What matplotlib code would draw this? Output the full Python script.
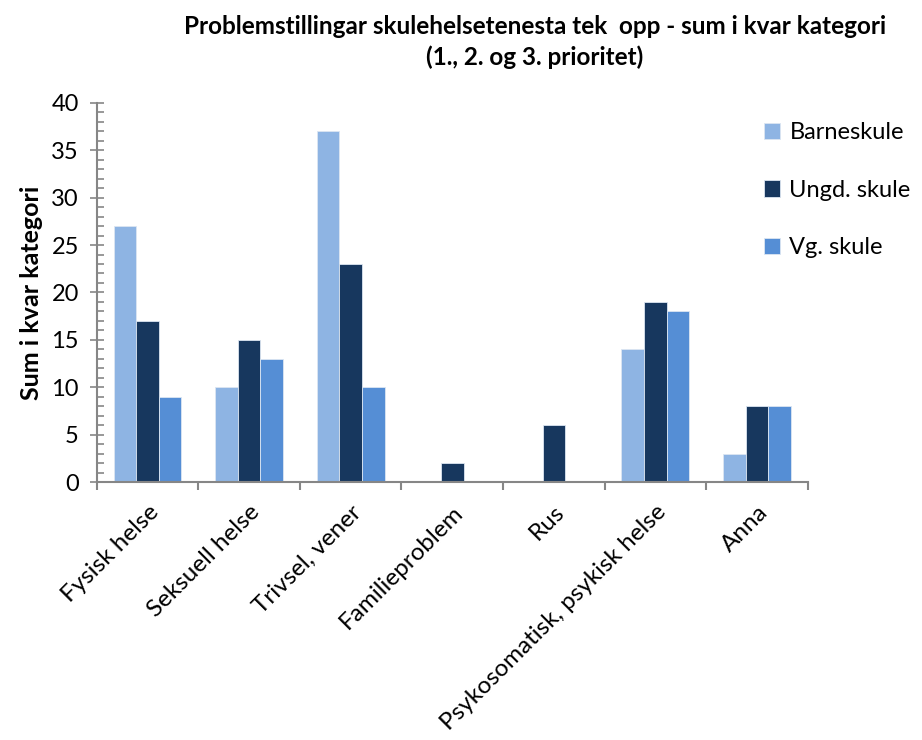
import numpy as np
import matplotlib.pyplot as plt
from matplotlib.ticker import MultipleLocator

# data
categories = ['Fysisk helse', 'Seksuell helse', 'Trivsel, vener', 'Familieproblem',
              'Rus', 'Psykosomatisk, psykisk helse', 'Anna']
barneskule = [27, 10, 37, 0, 0, 14, 3]
ungdskule = [17, 15, 23, 2, 6, 19, 8]
vgskule = [9, 13, 10, 0, 0, 18, 8]
series_names = ['Barneskule', 'Ungd. skule', 'Vg. skule']
colors = ['#8EB4E3', '#17375E', '#558ED5']

plt.rcParams['font.family'] = ['Lato', 'DejaVu Sans']

fig = plt.figure(figsize=(9.22, 7.4), dpi=100)
ax = fig.add_axes([0.105, 0.3486, 0.771, 0.5124])

x = np.arange(len(categories))
w = 1 / 4.5
for i, (vals, name, c) in enumerate(zip([barneskule, ungdskule, vgskule], series_names, colors)):
    ax.bar(x + (i - 1) * w, vals, w, color=c, label=name, edgecolor='#dce6f2', linewidth=0.6)

ax.set_xlim(-0.5, len(categories) - 0.5)
ax.set_ylim(0, 40)
ax.yaxis.set_major_locator(MultipleLocator(5))
ax.yaxis.set_minor_locator(MultipleLocator(1))
ax.set_xticks(np.arange(len(categories) + 1) - 0.5, minor=True)
ax.set_xticks(x)
ax.set_xticklabels(categories, rotation=45, ha='right', rotation_mode='anchor', fontsize=17.5)

for s in ['top', 'right']:
    ax.spines[s].set_visible(False)
for s in ['left', 'bottom']:
    ax.spines[s].set_color('#868686')
    ax.spines[s].set_linewidth(1.5)

ax.tick_params(axis='y', which='major', direction='inout', length=10, width=1.2,
               color='#868686', labelsize=17, pad=8)
ax.tick_params(axis='y', which='minor', direction='in', length=5, width=1.2, color='#868686')
ax.tick_params(axis='x', which='major', length=0, pad=14)
ax.tick_params(axis='x', which='minor', direction='out', length=6, width=1.5, color='#868686')

ax.set_ylabel('Sum i kvar kategori', fontsize=18, fontweight='bold', labelpad=6)
fig.suptitle('Problemstillingar skulehelsetenesta tek  opp - sum i kvar kategori\n(1., 2. og 3. prioritet)',
             x=0.58, y=0.98, fontsize=17.5, fontweight='bold', linespacing=1.4)

ax.legend(loc='upper left', bbox_to_anchor=(0.908, 1.005), frameon=False, fontsize=17,
          labelspacing=1.55, handlelength=0.7, handleheight=0.7, handletextpad=0.4)

fig.savefig('out.png', dpi=100)
